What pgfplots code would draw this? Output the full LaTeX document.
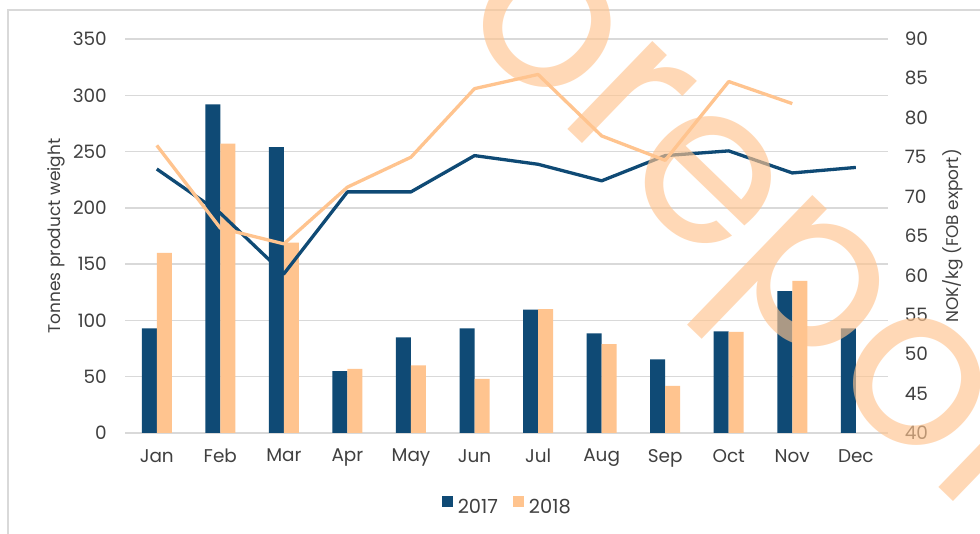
\documentclass[border=0pt]{standalone}
\usepackage{fontspec}
\setmainfont{Poppins}
\usepackage{pgfplots}
\pgfplotsset{compat=1.18}
\definecolor{cblue}{HTML}{0F4A75}
\definecolor{corange}{HTML}{FFC48F}
\definecolor{cgrid}{HTML}{D9D9D9}
\definecolor{ctext}{HTML}{404040}
\begin{document}
\begin{tikzpicture}[x=1bp,y=1bp]
\useasboundingbox (0,0) rectangle (980,534);
\fill[white] (0,0) rectangle (980,534);
\draw[cgrid, line width=1.5bp] (8,0) -- (8,524) -- (980,524);

\begin{axis}[
  at={(125bp,101bp)}, anchor=south west,
  width=762.6bp, height=394bp, scale only axis,
  xmin=-0.5, xmax=11.5, ymin=0, ymax=350,
  ytick={0,50,...,350},
  xtick={0,...,11},
  xticklabels={Jan,Feb,Mar,Apr,May,Jun,Jul,Aug,Sep,Oct,Nov,Dec},
  ymajorgrids, grid style={cgrid, line width=1.5bp},
  axis line style={draw=none},
  major tick length=0pt,
  tick label style={font=\fontsize{18.5}{20}\selectfont, text=ctext},
  /pgf/number format/assume math mode=true,
  yticklabel style={anchor=east, inner sep=0pt, xshift=-18bp},
  xticklabel style={anchor=north, inner sep=0pt, yshift=-16bp},
  every axis y label/.style={at={(axis description cs:-0.1023,0.5)}, rotate=90, anchor=north, inner sep=0pt, font=\fontsize{17}{18}\selectfont, text=ctext},
  ylabel={Tonnes product weight},
  ybar=0pt, bar width=15bp,
  legend style={at={(0.5,-0.183)}, anchor=center, draw=none, fill=none,
    legend columns=2, font=\fontsize{19.5}{20}\selectfont, text=ctext,
    nodes={inner sep=0pt},
    /tikz/every odd column/.append style={column sep=5bp},
    /tikz/every even column/.append style={column sep=15bp}},
]
\addplot[fill=cblue, draw=none, legend image code/.code={\fill[cblue] (0bp,0bp) rectangle (11bp,11bp);}] coordinates {
(0,93) (1,292) (2,254) (3,55) (4,85) (5,93) (6,109.5) (7,88.5) (8,65.4) (9,90.3) (10,126) (11,93)};
\addlegendentry{2017}
\addplot[fill=corange, draw=none, legend image code/.code={\fill[corange] (0bp,0bp) rectangle (11bp,11bp);}] coordinates {
(0,160) (1,257) (2,169) (3,57) (4,60) (5,48) (6,110) (7,79) (8,41.8) (9,89.8) (10,135.2)};
\addlegendentry{2018}
\end{axis}

\begin{axis}[
  at={(125bp,101bp)}, anchor=south west,
  width=762.6bp, height=394bp, scale only axis,
  xmin=-0.5, xmax=11.5, ymin=40, ymax=90,
  ytick={40,45,...,90},
  xtick=\empty,
  axis y line*=right, axis x line=none,
  axis line style={draw=none},
  major tick length=0pt,
  tick label style={font=\fontsize{18.5}{20}\selectfont, text=ctext},
  /pgf/number format/assume math mode=true,
  yticklabel style={anchor=west, inner sep=0pt, xshift=17bp},
  every axis y label/.style={at={(axis description cs:1.0713,0.5)}, rotate=90, anchor=north, inner sep=0pt, font=\fontsize{17}{18}\selectfont, text=ctext},
  ylabel={NOK/kg (FOB export)},
]
\addplot[cblue, line width=3.3bp, line join=round] coordinates {
(0,73.5) (1,67.9) (2,60.2) (3,70.6) (4,70.6) (5,75.2) (6,74.1) (7,72.0) (8,75.2) (9,75.8) (10,73.0) (11,73.7)};
\addplot[corange, line width=3.3bp, line join=round] coordinates {
(0,76.5) (1,66.0) (2,64.0) (3,71.2) (4,75.0) (5,83.7) (6,85.5) (7,77.7) (8,74.6) (9,84.6) (10,81.8)};
\end{axis}

\begin{scope}
\clip (0,0) rectangle (980,534);
\node[rotate=-44, anchor=base west, inner sep=0pt, text=corange, opacity=0.65, font=\fontsize{224}{224}\selectfont] at (453,516) {oreport};
\end{scope}
\end{tikzpicture}
\end{document}
